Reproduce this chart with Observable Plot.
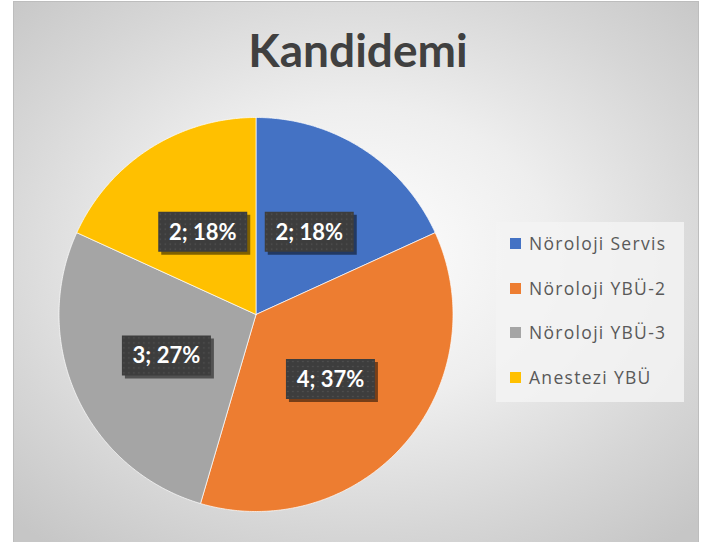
<!DOCTYPE html>
<html><head><meta charset="utf-8">
<script src="https://cdn.jsdelivr.net/npm/d3@7"></script>
<script src="https://cdn.jsdelivr.net/npm/@observablehq/plot@0.6"></script>
<style>
body{margin:0;background:#fff;}
#wrap{position:relative;width:719px;height:542px;overflow:hidden;background:#fff;}
#bg{position:absolute;left:13px;top:1px;width:684px;height:600px;border:1px solid #bdbdbd;
  background:radial-gradient(ellipse 72% 62% at 50% 42%, #ffffff 0%, #eeeeee 40%, #d6d6d6 75%, #c6c6c6 100%);}
#title{position:absolute;left:14px;width:688px;top:27px;text-align:center;font-family:Lato;font-weight:bold;font-size:46px;line-height:46px;color:#404040;}
#chart{position:absolute;left:0;top:0;}
#legend{position:absolute;left:496px;top:222px;width:188px;height:180px;background:rgba(243,243,243,0.85);}
.row{position:absolute;left:0;height:20px;font-family:"Open Sans";font-size:17.5px;line-height:20px;color:#595959;letter-spacing:1.3px;white-space:nowrap;}
.sw{position:absolute;left:14px;top:4px;width:11px;height:11px;}
.lt{position:absolute;left:33px;top:-1px;}
g[aria-label="labels"] text{letter-spacing:1px;}
</style>
</head><body>
<div id="wrap">
  <div id="bg"></div>
  <div id="title"></div>
  <div id="chart"></div>
  <div id="legend"></div>
</div>
<script>
const titleText = "Kandidemi";
const categories = ["Nöroloji Servis", "Nöroloji YBÜ-2", "Nöroloji YBÜ-3", "Anestezi YBÜ"];
const values = [2, 4, 3, 2];
const labels = ["2; 18%", "4; 37%", "3; 27%", "2; 18%"];
const colors = ["#4472C4", "#ED7D31", "#A5A5A5", "#FFC000"];

// layout (pixels)
const W = 719, H = 542, CX = 255.5, CY = 314, RPX = 197;

const pie = d3.pie().sort(null).value(d => d)(values);
const slicePts = [];
pie.forEach((p, i) => {
  const name = categories[i];
  slicePts.push({name, x: 0, y: 0});
  const n = Math.ceil((p.endAngle - p.startAngle) / (Math.PI / 360));
  for (let k = 0; k <= n; k++) {
    const a = p.startAngle + (p.endAngle - p.startAngle) * k / n;
    slicePts.push({name, x: Math.sin(a), y: Math.cos(a)});
  }
  slicePts.push({name, x: 0, y: 0});
});
const labelPos = pie.map((p, i) => {
  const a = (p.startAngle + p.endAngle) / 2;
  return {name: categories[i], label: labels[i], x: 0.5 * Math.sin(a), y: 0.5 * Math.cos(a)};
});

const boxSymbol = {draw(ctx) {
  ctx.moveTo(-44.5, -20); ctx.lineTo(44.5, -20); ctx.lineTo(44.5, 20); ctx.lineTo(-44.5, 20); ctx.closePath();
}};

const plot = Plot.plot({
  width: W, height: H, margin: 0,
  style: {background: "transparent", overflow: "visible"},
  x: {domain: [-CX / RPX, (W - CX) / RPX], axis: null},
  y: {domain: [-(H - CY) / RPX, CY / RPX], axis: null},
  color: {domain: categories, range: colors},
  marks: [
    Plot.line(slicePts, {x: "x", y: "y", z: "name", fill: "name", stroke: "#ffffff", strokeWidth: 1, strokeOpacity: 0.7}),
    Plot.dot(labelPos, {x: "x", y: "y", symbol: boxSymbol, r: 5, fill: "#000", fillOpacity: 0.5, dx: 3, dy: 3, ariaLabel: "label shadow"}),
    Plot.dot(labelPos, {x: "x", y: "y", symbol: boxSymbol, r: 5, fill: "url(#dots)", ariaLabel: "label box"}),
    Plot.text(labelPos, {x: "x", y: "y", text: "label", fill: "#ffffff", fontSize: 22, fontWeight: "bold", fontFamily: "Lato", dy: 1, ariaLabel: "labels"})
  ]
});
document.getElementById("chart").appendChild(plot);

const svg = d3.select(plot);
const defs = svg.insert("defs", ":first-child");
const f = defs.append("filter").attr("id", "blur").attr("x", "-20%").attr("y", "-30%").attr("width", "140%").attr("height", "160%");
f.append("feGaussianBlur").attr("stdDeviation", 2.2);
const pat = defs.append("pattern").attr("id", "dots").attr("width", 5).attr("height", 5).attr("patternUnits", "userSpaceOnUse");
pat.append("rect").attr("width", 5).attr("height", 5).attr("fill", "#3d3d3d");
pat.append("circle").attr("cx", 2.5).attr("cy", 2.5).attr("r", 0.7).attr("fill", "#575757");
svg.select('g[aria-label="label shadow"]').attr("filter", "url(#blur)");

document.getElementById("title").textContent = titleText;
const color = plot.scale("color");
const legend = d3.select("#legend");
const rowY = [12, 57, 101, 146];
categories.forEach((c, i) => {
  const r = legend.append("div").attr("class", "row").style("top", rowY[i] + "px");
  r.append("div").attr("class", "sw").style("background", color.apply(c));
  r.append("div").attr("class", "lt").text(c);
});
</script>
</body></html>
